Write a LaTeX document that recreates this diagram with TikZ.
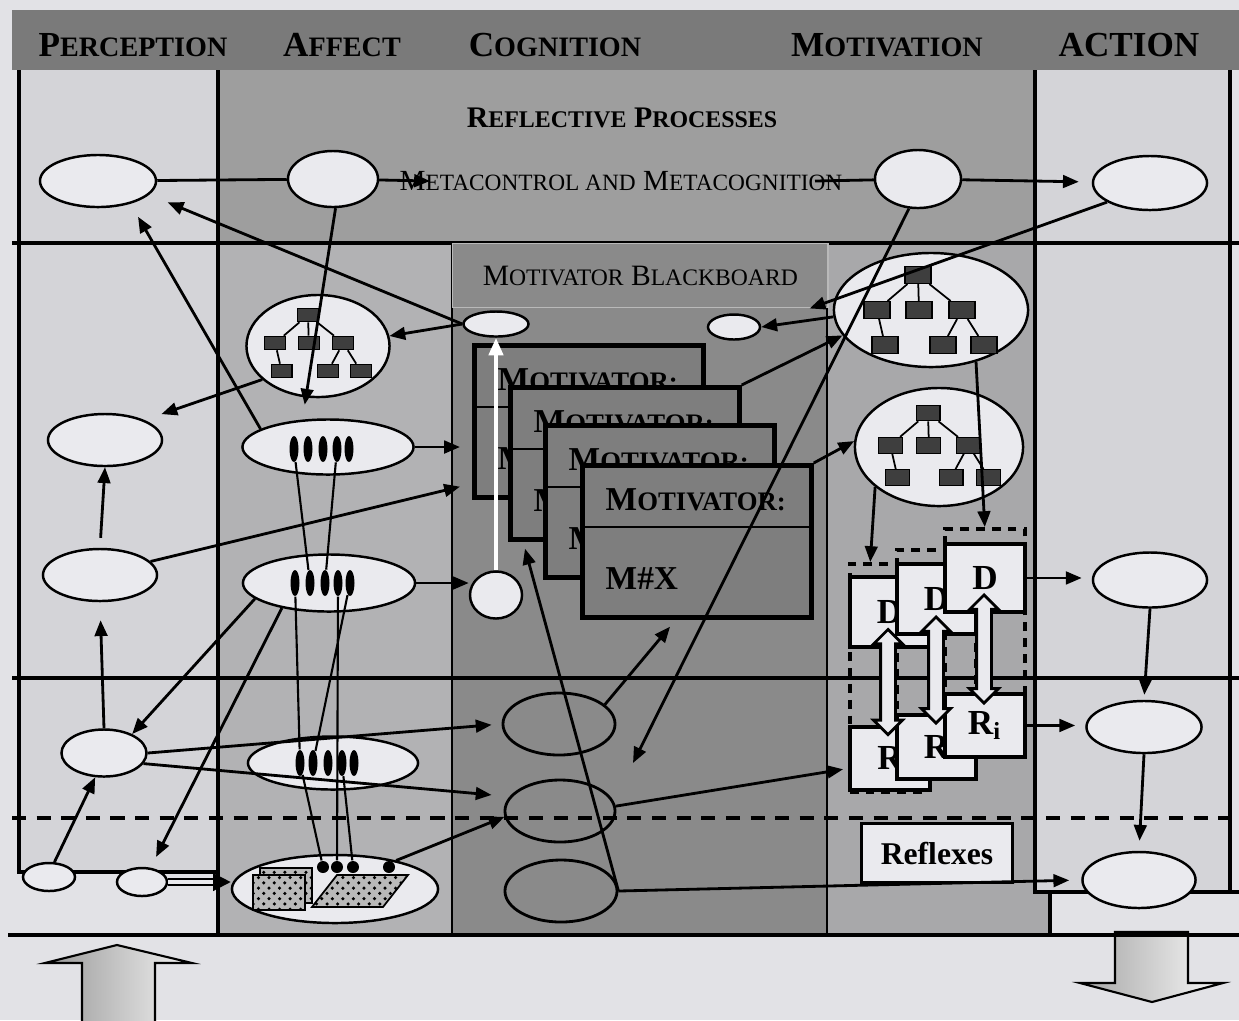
\documentclass[tikz,border=0pt]{standalone}
\usepackage{fontspec}
\setmainfont{Liberation Serif}
\usepackage{tikz}
\usetikzlibrary{arrows.meta,positioning,shapes.geometric,shapes.arrows,patterns}
\definecolor{pagebg}{RGB}{226,226,230}
\definecolor{headgray}{RGB}{122,122,122}
\definecolor{topgray}{RGB}{158,158,158}
\definecolor{pergray}{RGB}{212,212,216}
\definecolor{affgray}{RGB}{178,178,180}
\definecolor{coggray}{RGB}{138,138,138}
\definecolor{motgray}{RGB}{168,168,170}
\definecolor{ellfill}{RGB}{234,234,238}
\definecolor{boxdark}{RGB}{62,62,62}
\definecolor{cardgray}{RGB}{126,126,126}
\newcommand{\smc}[2]{#1\scalebox{0.8}{#2}}
\newcommand{\motcard}[3]{%
  \node[card,anchor=north west] (#1) at (#2,#3) {};
  \draw[line width=0.5pt] ([yshift=-0.64cm]#1.north west) -- ([yshift=-0.64cm]#1.north east);
  \node[cardtext,anchor=west] (#1t) at ([xshift=0.25cm,yshift=-0.37cm]#1.north west) {\smc{M}{OTIVATOR:}};
  \node[cardtext,anchor=west] (#1n) at ([xshift=0.25cm,yshift=-1.15cm]#1.north west) {M\#X};}
\newcommand{\orgtree}[4]{%
  \begin{scope}[shift={(#2,#3)},scale=#4]
    \foreach \n/\x/\y in {r/0/0,a/-41/35,b/1/35,c/44/35,d/-33/70,e/25/70,f/66/70}
      \node[leaf,minimum width=#4*0.26cm,minimum height=#4*0.17cm] (#1\n) at (\x,\y) {};
    \draw[line width=0.5pt] (#1r) -- (#1a) (#1r) -- (#1b) (#1r) -- (#1c)
      (#1a) -- (#1d) (#1c) -- (#1e) (#1c) -- (#1f);
  \end{scope}}

\begin{document}
\begin{tikzpicture}[x=0.01cm,y=-0.01cm,
    frame/.style={line width=1pt},
    ell/.style={ellipse,draw,fill=ellfill,line width=0.7pt,inner sep=0pt},
    cogell/.style={ellipse,draw,line width=0.8pt,inner sep=0pt},
    pip/.style={ellipse,fill=black,inner sep=0pt,minimum width=0.09cm,minimum height=0.26cm},
    dot/.style={circle,fill=black,inner sep=0pt,minimum size=0.12cm},
    leaf/.style={rectangle,fill=boxdark,draw=black,line width=0.3pt,inner sep=0pt},
    card/.style={rectangle,draw,fill=cardgray,line width=1.3pt,minimum width=2.29cm,minimum height=1.52cm,inner sep=0pt},
    cardtext/.style={font=\bfseries\fontsize{9.5}{11}\selectfont,inner sep=0pt},
    drbox/.style={rectangle,draw,fill=ellfill,line width=1.1pt,inner sep=0pt,font=\bfseries\fontsize{10}{12}\selectfont},
    drgroup/.style={rectangle,draw,dash pattern=on 2.5pt off 2pt,line width=1pt,inner sep=0pt},
    dbl/.style={double arrow,draw,fill=ellfill,line width=0.8pt,rotate=90,inner xsep=0pt,inner ysep=0.06cm,
      double arrow head extend=0.07cm},
    head/.style={font=\bfseries\fontsize{10}{12}\selectfont,inner sep=0pt},
    arr/.style={-{Triangle[length=4.5pt,width=3.6pt]},line width=0.8pt},
    whitearr/.style={-{Triangle[length=5pt,width=4pt,fill=white]},draw=white,line width=1.2pt},
    dblline/.style={double=ellfill,double distance=1.2pt,line width=0.6pt,-{Triangle[length=5pt,width=5pt]}},
    fine/.style={line width=0.6pt}]
  \useasboundingbox (0,0) rectangle (1239,1020);
  \fill[pagebg] (0,0) rectangle (1239,1020);
  \fill[headgray] (12,10) rectangle (1239,70);
  \fill[topgray] (218,70) rectangle (1035,243);
  \fill[pergray] (19,70) rectangle (218,872);
  \fill[affgray] (218,243) rectangle (452,935);
  \fill[coggray] (452,243) rectangle (827,935);
  \fill[motgray] (827,243) rectangle (1050,935);
  \fill[pergray] (1035,70) rectangle (1230,892);
  \shade[left color=gray!80,right color=gray!10,draw=black,line width=0.6pt]
    (82,1025) -- (82,963) -- (45,963) -- (117,945) -- (192,963) -- (155,963) -- (155,1025) -- cycle;
  \shade[left color=gray!70,right color=gray!5,draw=black,line width=0.6pt]
    (1115,932) -- (1115,983) -- (1080,983) -- (1152,1002) -- (1223,983) -- (1188,983) -- (1188,932) -- cycle;
  \draw[line width=0.4pt] (452,243) -- (452,935) (827,243) -- (827,935);
  \draw[frame] (19,70) -- (19,872) -- (218,872);
  \draw[frame] (218,70) -- (218,935);
  \draw[frame] (1035,70) -- (1035,892) -- (1239,892);
  \draw[frame] (1230,70) -- (1230,892);
  \draw[frame] (1050,892) -- (1050,935);
  \draw[frame] (12,243) -- (1239,243);
  \draw[frame] (12,678) -- (1239,678);
  \draw[frame,dash pattern=on 4pt off 3pt] (12,818) -- (1239,818);
  \draw[frame] (8,935) -- (1239,935);

  \node[head] (hPer) at (133,45) {\smc{P}{ERCEPTION}};
  \node[head] (hAff) at (342,45) {\smc{A}{FFECT}};
  \node[head] (hCog) at (555,45) {\smc{C}{OGNITION}};
  \node[head] (hMot) at (887,45) {\smc{M}{OTIVATION}};
  \node[head] (hAct) at (1129,45) {ACTION};
  \node[font=\bfseries\fontsize{8.5}{10}\selectfont,inner sep=0pt] (refl) at (622,118) {\smc{R}{EFLECTIVE} \smc{P}{ROCESSES}};
  \node[font=\fontsize{8.3}{10}\selectfont,inner sep=0pt] (meta) at (621,181) {\smc{M}{ETACONTROL AND} \smc{M}{ETACOGNITION}};
  \node[draw=gray!55,line width=0.4pt,fill=coggray,anchor=north west,minimum width=3.75cm,minimum height=0.64cm,
    font=\fontsize{8.4}{10}\selectfont] (bbLabel) at (452,243) {\smc{M}{OTIVATOR} \smc{B}{LACKBOARD}};
  \coordinate (metaIn) at (430,181);
  \coordinate (metaOut) at (815,181);
  \coordinate (cogIn) at (633,763);

  \node[ell,minimum width=1.16cm,minimum height=0.52cm] (P1) at (98,181) {};
  \node[ell,minimum width=0.90cm,minimum height=0.56cm] (A1) at (333,179) {};
  \node[ell,minimum width=0.86cm,minimum height=0.58cm] (M1) at (918,179) {};
  \node[ell,minimum width=1.14cm,minimum height=0.54cm] (Ac1) at (1150,183) {};
  \node[ell,minimum width=1.14cm,minimum height=0.52cm] (P2) at (105,440) {};
  \node[ell,minimum width=1.14cm,minimum height=0.52cm] (P3) at (100,575) {};
  \node[ell,minimum width=0.85cm,minimum height=0.47cm] (P4) at (104,753) {};
  \node[ell,minimum width=0.52cm,minimum height=0.28cm] (P5) at (49,877) {};
  \node[ell,minimum width=0.50cm,minimum height=0.28cm] (P6) at (142,882) {};
  \node[ell,minimum width=1.43cm,minimum height=1.02cm] (AffTree) at (318,346) {};
  \node[ell,minimum width=1.71cm,minimum height=0.55cm] (Aff1) at (328,447) {};
  \node[ell,minimum width=1.72cm,minimum height=0.57cm] (Aff2) at (329,583) {};
  \node[ell,minimum width=1.70cm,minimum height=0.53cm] (Aff3) at (333,763) {};
  \node[ell,minimum width=2.06cm,minimum height=0.68cm] (AffW) at (335,889) {};
  \node[ell,minimum width=0.65cm,minimum height=0.25cm] (BB1) at (496,324) {};
  \node[ell,minimum width=0.52cm,minimum height=0.25cm] (BB2) at (734,327) {};
  \node[ell,minimum width=0.52cm,minimum height=0.47cm] (C1) at (496,595) {};
  \node[cogell,minimum width=1.12cm,minimum height=0.62cm] (Cg1) at (559,724) {};
  \node[cogell,minimum width=1.10cm,minimum height=0.62cm] (Cg2) at (560,811) {};
  \node[cogell,minimum width=1.12cm,minimum height=0.62cm] (Cg3) at (561,891) {};
  \node[ell,minimum width=1.94cm,minimum height=1.14cm] (MT1) at (931,310) {};
  \node[ell,minimum width=1.68cm,minimum height=1.18cm] (MT2) at (939,447) {};
  \node[ell,minimum width=1.14cm,minimum height=0.55cm] (Ac2) at (1150,580) {};
  \node[ell,minimum width=1.15cm,minimum height=0.52cm] (Ac3) at (1144,727) {};
  \node[ell,minimum width=1.13cm,minimum height=0.56cm] (Ac4) at (1139,880) {};

  \foreach \i/\x in {1/294,2/308,3/323,4/337,5/349} \node[pip] (a1p\i) at (\x,449) {};
  \foreach \i/\x in {1/295,2/310,3/325,4/338,5/350} \node[pip] (a2p\i) at (\x,583) {};
  \foreach \i/\x in {1/300,2/313,3/328,4/342,5/354} \node[pip] (a3p\i) at (\x,763) {};
  \foreach \i/\x in {1/323,2/337,3/353,4/389} \node[dot] (dot\i) at (\x,867) {};
  \draw[fill=gray!55,line width=0.5pt,postaction={pattern=crosshatch dots}] (260,868) rectangle (312,903);
  \draw[fill=gray!55,line width=0.5pt,postaction={pattern=crosshatch dots}] (253,875) rectangle (305,910);
  \draw[fill=gray!55,line width=0.5pt,postaction={pattern=crosshatch dots}] (312,907) -- (383,907) -- (408,875) -- (337,875) -- cycle;

  \orgtree{at}{308}{315}{0.8}
  \orgtree{ma}{918}{275}{1}
  \orgtree{mb}{928}{413}{0.92}

  \motcard{Mot1}{472}{343}
  \motcard{Mot2}{508}{385}
  \motcard{Mot3}{543}{423}
  \motcard{Mot4}{580}{463}

  \node[drgroup,anchor=north west,minimum width=0.79cm,minimum height=2.28cm] (dr1) at (848,562) {};
  \node[drgroup,anchor=north west,minimum width=0.79cm,minimum height=2.29cm] (dr2) at (895,548) {};
  \node[drgroup,anchor=north west,minimum width=0.80cm,minimum height=2.28cm] (dr3) at (943,527) {};
  \node[drbox,anchor=north west,minimum width=0.79cm,minimum height=0.70cm] (D1) at (848,575) {D};
  \node[drbox,anchor=north west,minimum width=0.79cm,minimum height=0.70cm] (D2) at (895,562) {D};
  \node[drbox,anchor=north west,minimum width=0.80cm,minimum height=0.68cm] (D3) at (943,542) {D};
  \node[drbox,anchor=north west,minimum width=0.80cm,minimum height=0.63cm] (R1) at (848,725) {R};
  \node[drbox,anchor=north west,minimum width=0.79cm,minimum height=0.64cm] (R2) at (895,713) {R};
  \node[drbox,anchor=north west,minimum width=0.80cm,minimum height=0.63cm] (R3) at (943,692) {R\textsubscript{i}};
  \node[dbl,minimum height=1.05cm] (dbl1) at (888,682) {};
  \node[dbl,minimum height=1.06cm] (dbl2) at (936,670) {};
  \node[dbl,minimum height=1.08cm] (dbl3) at (984,649) {};
  \node[drbox,line width=1pt,minimum width=1.51cm,minimum height=0.59cm,font=\bfseries\fontsize{9}{11}\selectfont] (reflex) at (937,853) {Reflexes};

  \draw[fine] (a1p1) -- (a2p2) (a1p4) -- (a2p3) (a2p1) -- (a3p1) (a3p1) -- (dot1)
    (a2p4) -- (dot2) (a2p5) -- (a3p2) (a3p4) -- (dot3);
  \draw[line width=0.8pt] (P1) -- (A1);
  \draw[arr] (A1) -- (metaIn);
  \draw[line width=0.8pt] (metaOut) -- (M1);
  \draw[arr,shorten >=0.13cm] (M1) -- (Ac1);
  \draw[arr,shorten >=0.15cm] (Aff1.165) -- (P1.-35);
  \draw[arr,shorten >=0.2cm] (BB1.west) -- (P1.-15);
  \draw[arr] (BB1.west) -- (AffTree.8);
  \draw[arr,shorten >=0.18cm] (AffTree.211) -- (P2.27);
  \draw[arr,shorten >=0.15cm] (A1.-85) -- (Aff1.133);
  \draw[arr,shorten >=0.12cm] (Aff1.east) -- (Aff1.east -| Mot1.west);
  \draw[arr] (P3.15) -- ([xshift=-0.12cm,yshift=0.13cm]Mot1.south west);
  \draw[arr,shorten <=0.1cm] (P3.north) -- (P2.south);
  \draw[arr,shorten >=0.18cm] (P4.north) -- (P3.south);
  \draw[arr] (P5.70) -- (P4.250);
  \draw[arr] (Aff2.192) -- (P4.34);
  \draw[arr,shorten >=0.12cm] (Aff2.208) -- (P6.59);
  \draw[arr] (Aff2.east) -- (Aff2.east -| C1.west);
  \draw[dblline] (P6.east) -- (P6.east -| AffW.west);
  \draw[arr,shorten >=0.1cm] (P4.east) -- (Cg1.west);
  \draw[arr,shorten >=0.18cm] (P4.-15) -- (Cg2.164);
  \draw[arr] (AffW.25) -- (Cg2.186);
  \draw[arr] (Cg1.23) -- ([xshift=0.9cm,yshift=-0.07cm]Mot4.south west);
  \draw[arr] (Cg3.east) -- ([xshift=0.17cm,yshift=-0.07cm]Mot2.south west);
  \draw[arr,shorten >=0.12cm] (Cg3.east) -- (Ac4.west);
  \draw[arr,shorten >=0.05cm] (Cg2.5) -- ([yshift=-0.1cm]R1.west);
  \draw[arr] (M1.253) -- (cogIn);
  \draw[arr] (Ac1.204) -- ([xshift=-0.19cm]bbLabel.south east);
  \draw[arr] (MT1.184) -- (BB2.east);
  \draw[arr] (Mot2.north east) -- (MT1.196);
  \draw[arr] (Mot4.north east) -- (MT2.176);
  \draw[arr] (MT2.212) -- ([xshift=-0.19cm]dr1.north);
  \draw[arr] (MT1.-49) -- (dr3.north);
  \draw[arr,shorten >=0.1cm] (D3.east) -- (D3.east -| Ac2.west);
  \draw[arr,shorten >=0.1cm] (R3.east) -- (R3.east -| Ac3.west);
  \draw[arr,shorten >=0.05cm] (Ac2.south) -- (Ac3.north);
  \draw[arr,shorten >=0.1cm] (Ac3.south) -- (Ac4.north);
  \draw[whitearr] (C1.north) -- (BB1.south);
\end{tikzpicture}
\end{document}
